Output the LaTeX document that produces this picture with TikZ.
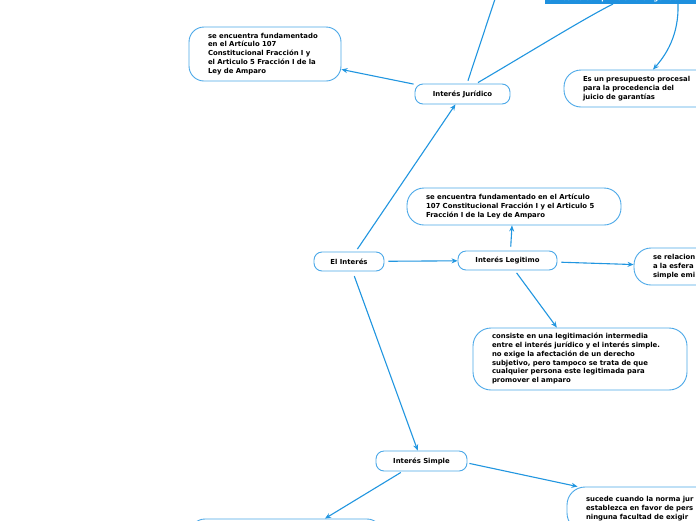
\documentclass[tikz,border=0pt]{standalone}
\usepackage{fontspec}
\setmainfont{DejaVu Sans}
\usetikzlibrary{arrows.meta,calc}
\definecolor{lineblue}{RGB}{33,150,224}
\definecolor{boxblue}{RGB}{75,168,232}
\definecolor{fillblue}{RGB}{30,144,222}
\newcommand\tlines[1]{\begin{tabular}{@{}l@{}}#1\end{tabular}}
\begin{document}
\begin{tikzpicture}[x=1pt,y=-1pt,
  font=\fontsize{6.9}{8.8}\selectfont\bfseries,
  tbox/.style={draw=boxblue, line width=0.9pt, rounded corners=15pt, fill=white,
    inner xsep=19pt, inner ysep=0pt, align=left},
  pill/.style={draw=boxblue, line width=0.9pt, rounded corners=8pt, fill=white,
    inner sep=0pt, align=center},
  arr/.style={draw=lineblue, line width=1.1pt, -{Stealth[length=6pt,width=5pt]}},
  ln/.style={draw=lineblue, line width=1.1pt}]
\useasboundingbox (0,0) rectangle (696,520);
\clip (0,0) rectangle (696,520);
\fill[white] (0,0) rectangle (696,520);

% nodes
\node[fill=fillblue, minimum width=160pt, minimum height=26pt, anchor=south west, inner sep=0pt] (blue) at (545,4) {};
\node[anchor=base west, text=white, inner sep=0pt] (bluetext) at (549,0.8) {antes de cumplir cierta exigencia};
\coordinate (topn) at (498,-10);

\node[tbox, text width=114pt, minimum height=54pt] (A) at (265,54)
 {\tlines{se encuentra fundamentado\\en el Artículo 107\\Constitucional Fracción I y\\el Articulo 5 Fracción I de la\\Ley de Amparo}};
\node[pill, minimum width=95pt, minimum height=20pt] (jur) at (462.5,94) {Interés Jurídico};
\node[tbox, rounded corners=17pt, text width=122pt, minimum height=37pt] (pres) at (644,88.5)
 {\tlines{Es un presupuesto procesal\\para la procedencia del\\juicio de garantías}};
\node[tbox, rounded corners=17pt, text width=176pt, minimum height=37pt] (fund) at (514,206.5)
 {\tlines{se encuentra fundamentado en el Artículo\\107 Constitucional Fracción I y el Articulo 5\\Fracción I de la Ley de Amparo}};
\node[pill, minimum width=70pt, minimum height=19pt] (int) at (349,261.5) {El Interés};
\node[pill, minimum width=99pt, minimum height=19pt] (leg) at (507.5,260.5) {Interés Legitimo};
\node[tbox, rounded corners=17pt, text width=82pt, minimum height=37pt] (rel) at (694,266.5)
 {\tlines{se relacion\\a la esfera\\simple emi}};
\node[tbox, rounded corners=18pt, text width=176pt, minimum height=62pt] (cons) at (580,359)
 {\tlines{consiste en una legitimación intermedia\\entre el interés jurídico y el interés simple.\\no exige la afectación de un derecho\\subjetivo, pero tampoco se trata de que\\cualquier persona este legitimada para\\promover el amparo}};
\node[pill, minimum width=91pt, minimum height=20pt] (sim) at (421.5,461) {Interés Simple};
\node[tbox, rounded corners=18pt, text width=122pt, minimum height=44pt] (suc) at (647,509)
 {\tlines{sucede cuando la norma jur\\establezca en favor de pers\\ninguna facultad de exigir}};
\node[tbox, minimum width=192pt, minimum height=42pt, inner xsep=0pt] (bl) at (286,540) {};

% connectors
\draw[arr, shorten <=3pt] (int) -- (jur);
\draw[arr, shorten <=4pt] (int) -- (leg);
\draw[arr, shorten <=5pt] (int) -- (sim);
\draw[arr, shorten <=1pt] (jur) -- (A);
\draw[ln, shorten <=3pt] ([xshift=4.5pt]jur.north) -- (topn);
\draw[ln] ([xshift=15.5pt,yshift=1pt]jur.north) .. controls (530,52) and (585,18) .. ([xshift=68pt]blue.south west);
\draw[arr] ([xshift=133pt]blue.south west) .. controls (679,35) and (666,55) .. ([xshift=9pt]pres.north);
\draw[arr, shorten <=4pt] ([xshift=3pt]leg.north) -- ([xshift=-2pt]fund.south);
\draw[arr, shorten <=4pt] (leg) -- (rel);
\draw[arr, shorten <=3pt] (leg) -- (cons);
\draw[arr, shorten <=2pt] ([yshift=-2pt]sim.east) -- ([xshift=11pt]suc.north west);
\draw[arr, shorten <=2pt] ([xshift=-19pt]sim.south) -- ([xshift=39pt]bl.north);
\end{tikzpicture}
\end{document}
